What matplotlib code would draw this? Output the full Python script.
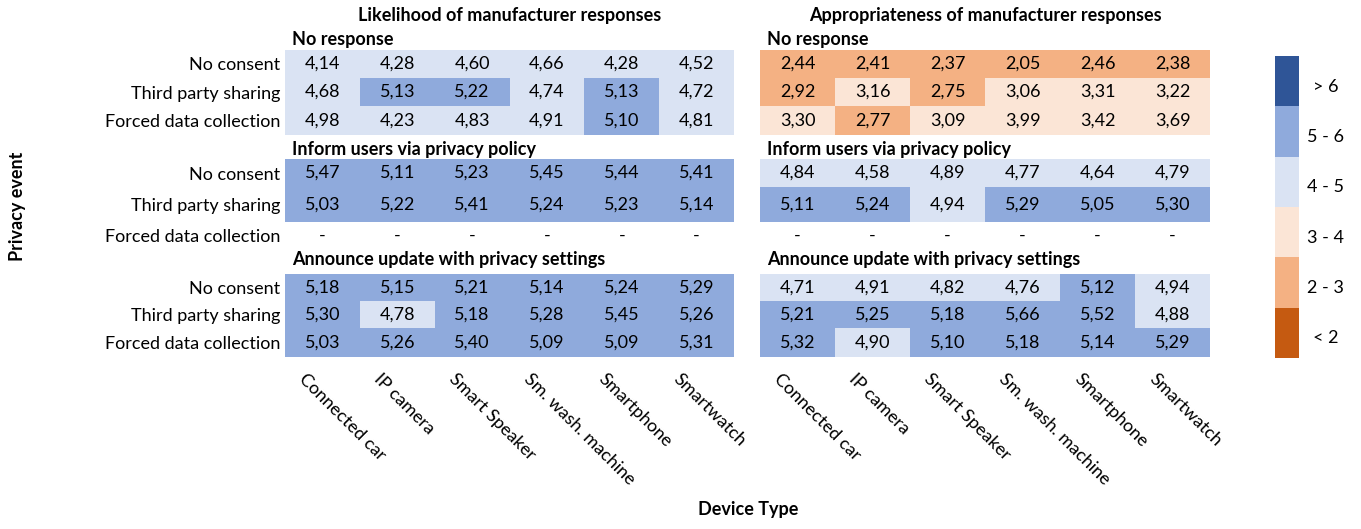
import numpy as np
import matplotlib.pyplot as plt
from matplotlib.colors import ListedColormap, BoundaryNorm
from matplotlib.transforms import ScaledTranslation

plt.rcParams['font.family'] = ['Lato', 'DejaVu Sans']

devices = ['Connected car', 'IP camera', 'Smart Speaker', 'Sm. wash. machine', 'Smartphone', 'Smartwatch']
events = ['No consent', 'Third party sharing', 'Forced data collection']
responses = ['No response', 'Inform users via privacy policy', 'Announce update with privacy settings']
nan = np.nan

# Likelihood of manufacturer responses (rows = events, cols = devices)
like_none = [[4.14, 4.28, 4.60, 4.66, 4.28, 4.52],
             [4.68, 5.13, 5.22, 4.74, 5.13, 4.72],
             [4.98, 4.23, 4.83, 4.91, 5.10, 4.81]]
like_inform = [[5.47, 5.11, 5.23, 5.45, 5.44, 5.41],
               [5.03, 5.22, 5.41, 5.24, 5.23, 5.14],
               [nan, nan, nan, nan, nan, nan]]
like_announce = [[5.18, 5.15, 5.21, 5.14, 5.24, 5.29],
                 [5.30, 4.78, 5.18, 5.28, 5.45, 5.26],
                 [5.03, 5.26, 5.40, 5.09, 5.09, 5.31]]

# Appropriateness of manufacturer responses
appr_none = [[2.44, 2.41, 2.37, 2.05, 2.46, 2.38],
             [2.92, 3.16, 2.75, 3.06, 3.31, 3.22],
             [3.30, 2.77, 3.09, 3.99, 3.42, 3.69]]
appr_inform = [[4.84, 4.58, 4.89, 4.77, 4.64, 4.79],
               [5.11, 5.24, 4.94, 5.29, 5.05, 5.30],
               [nan, nan, nan, nan, nan, nan]]
appr_announce = [[4.71, 4.91, 4.82, 4.76, 5.12, 4.94],
                 [5.21, 5.25, 5.18, 5.66, 5.52, 4.88],
                 [5.32, 4.90, 5.10, 5.18, 5.14, 5.29]]

bins = [0, 2, 3, 4, 5, 6, 7]
bin_labels = ['< 2', '2 - 3', '3 - 4', '4 - 5', '5 - 6', '> 6']
colors = ['#C55A11', '#F4B183', '#FBE5D6', '#DAE3F3', '#8FAADC', '#2F5597']

cmap = ListedColormap(colors)
cmap.set_bad('white')
norm = BoundaryNorm(bins, cmap.N)

W, H = 1361, 529
FS = 13
# row edges of each block, in figure pixels from the top
block_edges = [[50, 78, 106, 135], [159, 187, 222, 249], [274, 301, 328, 357]]
header_y = [39, 150, 260]
top, bottom = 50, 357

fig = plt.figure(figsize=(W / 100, H / 100), dpi=100)


def px_axes(x0, x1, y0, y1):
    return fig.add_axes([x0 / W, 1 - y1 / H, (x1 - x0) / W, (y1 - y0) / H])


def draw_panel(ax, title, blocks, show_rows):
    centers = []
    for vals, edges, name, hy in zip(blocks, block_edges, responses, header_y):
        data = np.ma.masked_invalid(np.array(vals, dtype=float))
        ax.pcolormesh(np.arange(7), edges, data, cmap=cmap, norm=norm)
        mids = [(a + b) / 2 for a, b in zip(edges[:-1], edges[1:])]
        centers += mids
        for i in range(3):
            for j in range(6):
                v = data[i, j]
                txt = '-' if np.ma.is_masked(v) else '{:.2f}'.format(v).replace('.', ',')
                ax.text(j + 0.5, mids[i], txt, ha='center', va='center', fontsize=FS)
        ax.text(0.09, hy, name, ha='left', va='center', fontsize=FS, fontweight='bold')
    ax.text(3, 15, title, ha='center', va='center', fontsize=FS, fontweight='bold')
    ax.set_xlim(0, 6)
    ax.set_ylim(bottom, top)
    for s in ax.spines.values():
        s.set_visible(False)
    # device names, rotated, hanging below each column
    ax.set_xticks([])
    off = ScaledTranslation(-15 / 100, -14 / 100, fig.dpi_scale_trans)
    for j, name in enumerate(devices):
        ax.text(j + 0.5, 0, name, rotation=-45, ha='left', va='top',
                rotation_mode='anchor', fontsize=FS,
                transform=ax.get_xaxis_transform() + off)
    if show_rows:
        ax.set_yticks(centers)
        ax.set_yticklabels(events * 3, fontsize=FS)
        ax.tick_params(axis='y', length=0, pad=3.6)
    else:
        ax.set_yticks([])


ax1 = px_axes(285, 734, top, bottom)
draw_panel(ax1, 'Likelihood of manufacturer responses',
           [like_none, like_inform, like_announce], True)
ax2 = px_axes(760, 1210, top, bottom)
draw_panel(ax2, 'Appropriateness of manufacturer responses',
           [appr_none, appr_inform, appr_announce], False)

# legend as a stepped colour bar with equal-height steps
nb = len(bin_labels)
mids = [(a + b) / 2 for a, b in zip(bins[:-1], bins[1:])]
axl = px_axes(1275, 1299, 56, 358)
axl.pcolormesh([0, 1], np.arange(nb + 1), np.array(mids).reshape(-1, 1), cmap=cmap, norm=norm)
axl.set_xlim(0, 1)
axl.set_ylim(0, nb)
axl.set_xticks([])
axl.yaxis.tick_right()
axl.set_yticks(np.arange(nb) + 0.42)
axl.set_yticklabels(bin_labels, fontsize=FS, ha='center')
axl.tick_params(axis='y', length=0, pad=19)
for s in axl.spines.values():
    s.set_visible(False)

fig.text(18 / W, 1 - 206 / H, 'Privacy event', rotation=90, ha='center', va='center',
         fontsize=FS, fontweight='bold')
fig.text(748 / W, 1 - 510 / H, 'Device Type', ha='center', va='center',
         fontsize=FS, fontweight='bold')

fig.savefig('out.png', dpi=100)
